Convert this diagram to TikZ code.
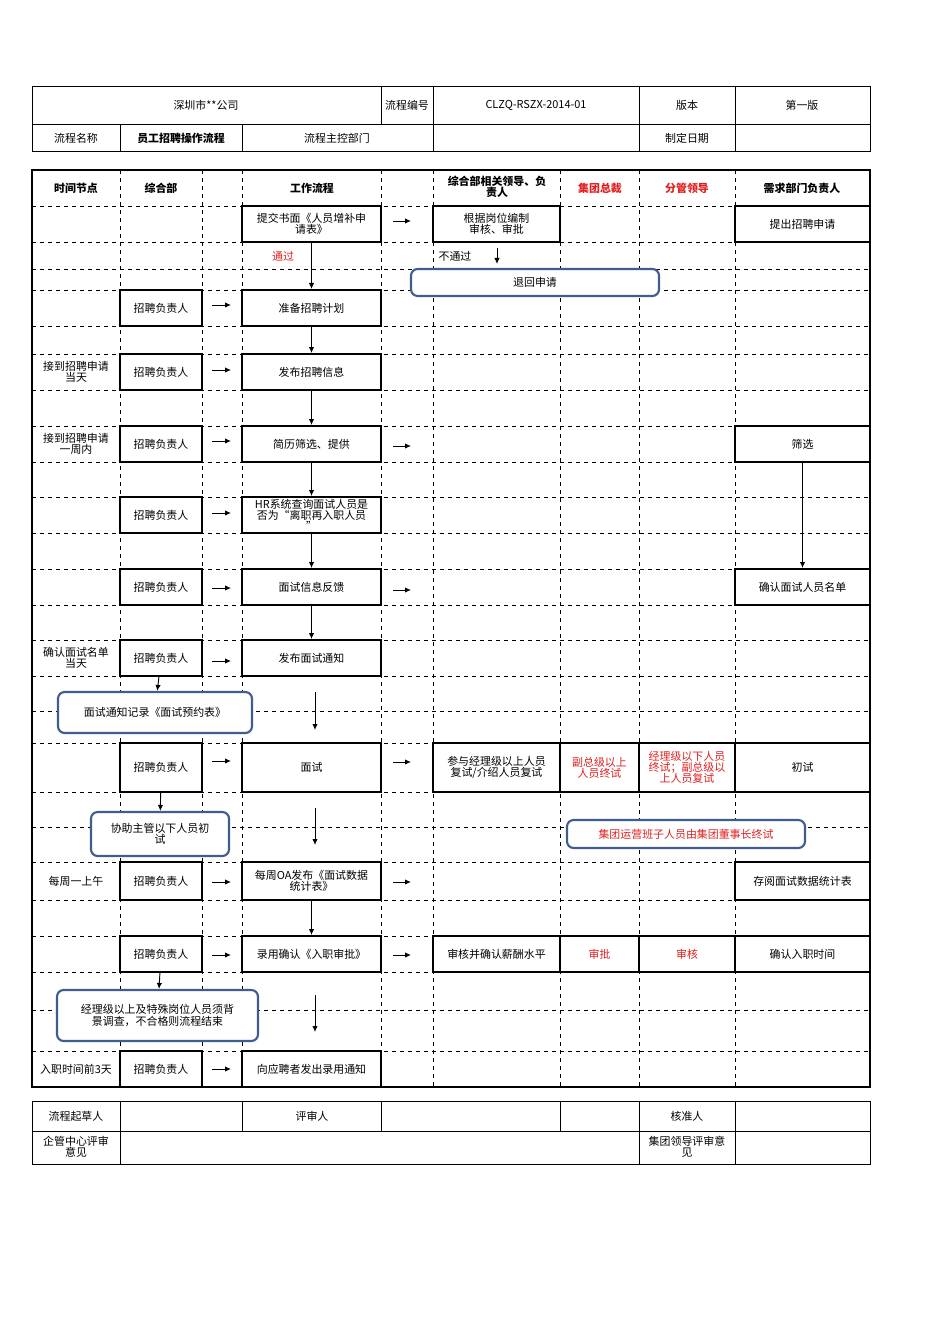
\documentclass[tikz,border=0pt]{standalone}
\usepackage{fontspec}
\setmainfont{Noto Sans CJK SC}
\usetikzlibrary{arrows.meta,fit}
\definecolor{bl}{HTML}{3F5E8E}
\definecolor{rd}{HTML}{E02020}
\tikzset{
 grid/.style={dashed,line width=0.5pt},
 bx/.style={draw,line width=1.5pt,fill=white,inner sep=0pt},
 rbx/.style={draw=bl,line width=1.6pt,fill=white,rounded corners=5pt,inner sep=0pt},
 arr/.style={-{Latex[length=4.5pt,width=4pt]},line width=0.7pt},
 tx/.style={font=\fontsize{8.2}{8.4}\selectfont,align=center},
 hd/.style={font=\fontsize{8.2}{8.4}\selectfont\bfseries,align=center},
}
\newcommand\cbox[7][bx]{\path (#3,#4) coordinate (#2a) (#5,#6) coordinate (#2b);
 \node[#1,fit=(#2a)(#2b),label={[tx]center:#7}] (#2) {};}
\begin{document}
\begin{tikzpicture}[x=0.75pt,y=-0.75pt]
\useasboundingbox (0,0) rectangle (950,1344);
% header table
\draw[line width=0.6pt] (32,86) rectangle (870,151) (32,124)--(870,124);
\foreach \x in {381,433,639,735} \draw[line width=0.6pt] (\x,86)--(\x,124);
\foreach \x in {120,242,433,639,735} \draw[line width=0.6pt] (\x,124)--(\x,151);
\node[tx] (h1) at (206,105) {深圳市**公司};
\node[tx] (h2) at (407,105) {流程编号};
\node[tx] (h3) at (536,105) {CLZQ-RSZX-2014-01};
\node[tx] (h4) at (687,105) {版本};
\node[tx] (h5) at (802,105) {第一版};
\node[tx] (h6) at (76,138) {流程名称};
\node[hd] (h7) at (181,138) {员工招聘操作流程};
\node[tx] (h8) at (337,138) {流程主控部门};
\node[tx] (h9) at (687,138) {制定日期};
% main grid
\foreach \y in {206,242,269,290,326,354,390,426,462,497,533,569,605,640,676,711,743,792,827,862,900,936,972,1010,1051}
  \draw[grid] (32,\y)--(870,\y);
\foreach \x in {120,202,242,381,433,560,639,735}
  \draw[grid] (\x,170)--(\x,1087);
\draw[line width=1.7pt] (32,170) rectangle (870,1087);
\node[hd] (c1) at (76,188) {时间节点};
\node[hd] (c2) at (161,188) {综合部};
\node[hd] (c3) at (312,188) {工作流程};
\node[hd] (c4) at (497,187) {综合部相关领导、负\\责人};
\node[hd,text=rd] (c5) at (600,188) {集团总裁};
\node[hd,text=rd] (c6) at (687,188) {分管领导};
\node[hd] (c7) at (802,188) {需求部门负责人};
% time nodes
\node[tx] (t1) at (76,372) {接到招聘申请\\当天};
\node[tx] (t2) at (76,444) {接到招聘申请\\一周内};
\node[tx] (t3) at (76,658) {确认面试名单\\当天};
\node[tx] (t4) at (76,881) {每周一上午};
\node[tx] (t5) at (76,1069) {入职时间前3天};
% flow boxes
\cbox{f1}{242}{206}{381}{242}{提交书面《人员增补申\\请表》}
\cbox{f2}{433}{206}{560}{242}{根据岗位编制\\审核、审批}
\cbox{f3}{735}{206}{870}{242}{提出招聘申请}
\cbox{f4}{242}{290}{381}{326}{准备招聘计划}
\cbox{f5}{242}{354}{381}{390}{发布招聘信息}
\cbox{f6}{242}{426}{381}{462}{简历筛选、提供}
\cbox{f7}{242}{497}{381}{533}{HR系统查询面试人员是\\否为“离职再入职人员\\”}
\cbox{f8}{242}{569}{381}{605}{面试信息反馈}
\cbox{f9}{242}{640}{381}{676}{发布面试通知}
\cbox{f10}{242}{743}{381}{792}{面试}
\cbox{f11}{242}{862}{381}{900}{每周OA发布《面试数据\\统计表》}
\cbox{f12}{242}{936}{381}{972}{录用确认《入职审批》}
\cbox{f13}{242}{1051}{381}{1087}{向应聘者发出录用通知}
\cbox{s1}{735}{426}{870}{462}{筛选}
\cbox{s2}{735}{569}{870}{605}{确认面试人员名单}
\cbox{m1}{433}{743}{560}{792}{参与经理级以上人员\\复试/介绍人员复试}
\cbox{m2}{560}{743}{639}{792}{\textcolor{rd}{副总级以上}\\\textcolor{rd}{人员终试}}
\cbox{m3}{639}{743}{735}{792}{\textcolor{rd}{经理级以下人员}\\\textcolor{rd}{终试；副总级以}\\\textcolor{rd}{上人员复试}}
\cbox{m4}{735}{743}{870}{792}{初试}
\cbox{s3}{735}{862}{870}{900}{存阅面试数据统计表}
\cbox{n1}{433}{936}{560}{972}{审核并确认薪酬水平}
\cbox{n2}{560}{936}{639}{972}{\textcolor{rd}{审批}}
\cbox{n3}{639}{936}{735}{972}{\textcolor{rd}{审核}}
\cbox{n4}{735}{936}{870}{972}{确认入职时间}
\foreach \y/\n in {290/1,354/2,426/3,497/4,569/5,640/6,743/7,862/8,936/9,1051/10}{
  \pgfmathsetmacro\yb{\y+36}
  \ifnum\n=7 \pgfmathsetmacro\yb{792}\fi
  \ifnum\n=8 \pgfmathsetmacro\yb{900}\fi
  \cbox{r\n}{120}{\y}{202}{\yb}{招聘负责人}
}
% rounded boxes
\cbox[rbx]{b1}{411}{269}{659}{296}{退回申请}
\cbox[rbx]{b2}{58}{692}{252}{733}{面试通知记录《面试预约表》}
\cbox[rbx]{b3}{91}{812}{229}{856}{协助主管以下人员初\\试}
\cbox[rbx]{b4}{567}{820}{805}{848}{\textcolor{rd}{集团运营班子人员由集团董事长终试}}
\cbox[rbx]{b5}{57}{990}{258}{1041}{经理级以上及特殊岗位人员须背\\景调查，不合格则流程结束}
% labels
\node[tx,text=rd] (l1) at (283,256) {通过};
\node[tx] (l2) at (455,256) {不通过};
% vertical arrows
\draw[arr] (f1)--(f4);
\draw[arr] (f4)--(f5);
\draw[arr] (f5)--(f6);
\draw[arr] (f6)--(f7);
\draw[arr] (f7)--(f8);
\draw[arr] (f8)--(f9);
\draw[arr] (s1)--(s2);
\draw[arr] (f11)--(f12);
\draw[arr] (r6)--(b2);
\draw[arr] (r7)--(b3);
\draw[arr] (r9)--(b5);
\coordinate (v1) at (315,692); \coordinate (v2) at (315,730);
\draw[arr] (v1)--(v2);
\coordinate (v3) at (315,808); \coordinate (v4) at (315,845);
\draw[arr] (v3)--(v4);
\coordinate (v5) at (315,995); \coordinate (v6) at (315,1032);
\draw[arr] (v5)--(v6);
\coordinate (v7) at (497,248); \coordinate (v8) at (497,264);
\draw[arr] (v7)--(v8);
% horizontal arrows
\foreach \y in {305,370,441,513,588,661,761,882,955,1069}
  {\coordinate (ha\y) at (212,\y); \coordinate (hb\y) at (231,\y); \draw[arr] (ha\y)--(hb\y);}
\foreach \y in {221,446,590,762,882,955}
  {\coordinate (hc\y) at (393,\y); \coordinate (hd\y) at (411,\y); \draw[arr] (hc\y)--(hd\y);}
% footer
\draw[line width=0.6pt] (32,1101) rectangle (870,1164) (32,1131)--(870,1131);
\foreach \x in {120,242,381,560,639,735} \draw[line width=0.6pt] (\x,1101)--(\x,1131);
\foreach \x in {120,639,735} \draw[line width=0.6pt] (\x,1131)--(\x,1164);
\node[tx] (g1) at (76,1116) {流程起草人};
\node[tx] (g2) at (312,1116) {评审人};
\node[tx] (g3) at (687,1116) {核准人};
\node[tx] (g4) at (76,1147) {企管中心评审\\意见};
\node[tx] (g5) at (687,1147) {集团领导评审意\\见};
\end{tikzpicture}
\end{document}
